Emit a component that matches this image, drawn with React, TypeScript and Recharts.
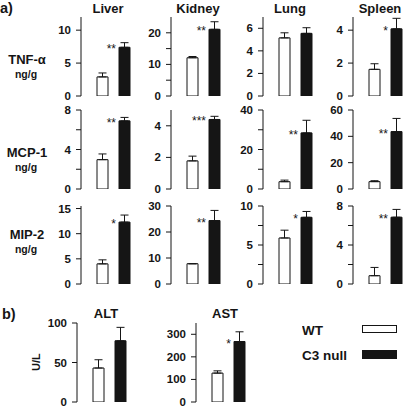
import { BarChart, Bar, XAxis, YAxis, ErrorBar, Cell, LabelList, Legend } from "recharts";

const FONT = "'Liberation Sans', Arial, Helvetica, sans-serif";
const INK = "#151515";

const groups = ["WT", "C3 null"];
const organs = ["Liver", "Kidney", "Lung", "Spleen"];

// TNF-alpha, ng/g
const tnfWT = [2.9, 12.1, 5.15, 1.62];
const tnfWTErr = [0.6, 0.4, 0.45, 0.34];
const tnfC3 = [7.4, 21.1, 5.55, 4.08];
const tnfC3Err = [0.7, 2.4, 0.5, 0.64];
const tnfStars = ["**", "**", "", "*"];
const tnfMax = [12, 25, 7, 4.8];
const tnfTicks = [[0, 5, 10], [0, 5, 10, 15, 20], [0, 2, 4, 6], [0, 2, 4]];
const tnfMinor = [[], [5, 15], [], []];

// MCP-1, ng/g
const mcpWT = [2.97, 1.78, 3.7, 5.6];
const mcpWTErr = [0.58, 0.3, 0.8, 0.7];
const mcpC3 = [6.9, 4.4, 28.4, 43.6];
const mcpC3Err = [0.35, 0.2, 6.4, 10];
const mcpStars = ["**", "***", "**", "**"];
const mcpMax = [8, 5, 40, 60];
const mcpTicks = [[0, 2, 4, 6, 8], [0, 2, 4], [0, 10, 20, 30, 40], [0, 20, 40, 60]];
const mcpMinor = [[2, 6], [], [10, 30], []];

// MIP-2, ng/g
const mipWT = [4.0, 7.8, 5.9, 0.85];
const mipWTErr = [0.8, 0, 1.0, 0.85];
const mipC3 = [12.3, 24.4, 8.55, 6.85];
const mipC3Err = [1.4, 3.9, 0.75, 0.8];
const mipStars = ["*", "**", "*", "**"];
const mipMax = [15.5, 30, 10, 8];
const mipTicks = [[0, 5, 10, 15], [0, 10, 20, 30], [0, 2.5, 5, 7.5, 10], [0, 2, 4, 6, 8]];
const mipMinor = [[], [], [2.5, 7.5], [2, 6]];

// b) serum enzymes, U/L
const enzymes = ["ALT", "AST"];
const enzWT = [43, 128];
const enzWTErr = [10.5, 10];
const enzC3 = [77.5, 268];
const enzC3Err = [17, 43];
const enzStars = ["", "*"];
const enzMax = [100, 350];
const enzTicks = [[0, 50, 100], [0, 100, 200, 300]];

const rows = [
  { label: "TNF-α", wt: tnfWT, wtErr: tnfWTErr, c3: tnfC3, c3Err: tnfC3Err, stars: tnfStars, max: tnfMax, ticks: tnfTicks, minor: tnfMinor },
  { label: "MCP-1", wt: mcpWT, wtErr: mcpWTErr, c3: mcpC3, c3Err: mcpC3Err, stars: mcpStars, max: mcpMax, ticks: mcpTicks, minor: mcpMinor },
  { label: "MIP-2", wt: mipWT, wtErr: mipWTErr, c3: mipC3, c3Err: mipC3Err, stars: mipStars, max: mipMax, ticks: mipTicks, minor: mipMinor },
];

// layout
const AXIS_W = 30;
const FRAME_W = 60;
const PAD_V = 7;
const colX = [81, 171, 263, 353];
const rowY = [17, 110, 206];
const rowH = [79, 79, 78];
const enzX = [77, 196];
const enzY = 323;
const enzH = 79;

function tickRenderer(minor: number[]) {
  return (props: any) => {
    const { x, y, payload } = props;
    if (minor.includes(payload.value)) return <g />;
    return (
      <text x={x} y={y} dy={4} textAnchor="end" fontSize={11.5} fontWeight="bold" fontFamily={FONT} fill={INK}>
        {payload.value}
      </text>
    );
  };
}

const renderStar = (props: any) => {
  const x = props.x ?? props.viewBox?.x;
  const y = props.y ?? props.viewBox?.y;
  if (!props.value) return null;
  return (
    <text x={x - 3} y={y + 6} textAnchor="end" fontSize={12} fontFamily={FONT} fill={INK}>
      {props.value}
    </text>
  );
};

const renderLegend = () => (
  <svg width={110} height={44} style={{ display: "block" }}>
    {groups.map((g, i) => (
      <g key={g}>
        <text x={0} y={13 + i * 25} fontSize={13.5} fontWeight="bold" fontFamily={FONT} fill={INK}>
          {g}
        </text>
        <rect x={60.5} y={3.5 + i * 25} width={34} height={i ? 8 : 7} fill={i ? INK : "#fff"} stroke={INK} />
      </g>
    ))}
  </svg>
);

interface PanelProps {
  left: number;
  top: number;
  height: number;
  max: number;
  ticks: number[];
  minor: number[];
  wt: number;
  wtErr: number;
  c3: number;
  c3Err: number;
  star: string;
  legend?: boolean;
}

function Panel({ left, top, height, max, ticks, minor, wt, wtErr, c3, c3Err, star, legend }: PanelProps) {
  const data = [
    { group: groups[0], value: wt, err: [0, wtErr], star: "" },
    { group: groups[1], value: c3, err: [0, c3Err], star },
  ];
  const chartLeft = left - AXIS_W;
  const chartTop = top - PAD_V;
  return (
    <div style={{ position: "absolute", left: chartLeft, top: chartTop }}>
      <BarChart
        width={AXIS_W + FRAME_W + 1}
        height={height + PAD_V * 2}
        data={data}
        margin={{ top: PAD_V, right: 1, bottom: PAD_V, left: 0 }}
        barCategoryGap={0}
      >
        <XAxis dataKey="group" tick={false} tickLine={false} height={0} padding={{ left: 10, right: 6 }} stroke={INK} />
        <XAxis xAxisId="top" orientation="top" dataKey="group" tick={false} tickLine={false} height={0} stroke={INK} />
        <YAxis
          type="number"
          domain={[0, max]}
          ticks={ticks}
          interval={0}
          width={AXIS_W}
          tickSize={5}
          tickMargin={5}
          tick={tickRenderer(minor)}
          stroke={INK}
          allowDataOverflow
        />
        <YAxis yAxisId="r" orientation="right" type="number" domain={[0, max]} width={0} tick={false} tickLine={false} stroke={INK} />
        <Bar dataKey="value" barSize={11} stroke={INK} strokeWidth={1} isAnimationActive={false}>
          {data.map((d, i) => (
            <Cell key={d.group} fill={i ? INK : "#fff"} />
          ))}
          <ErrorBar dataKey="err" direction="y" width={4} stroke={INK} strokeWidth={1} isAnimationActive={false} />
          <LabelList dataKey="star" content={renderStar} />
        </Bar>
        {legend && (
          <Legend
            layout="horizontal"
            verticalAlign="middle"
            align="center"
            content={renderLegend}
            wrapperStyle={{ left: 302 - chartLeft, top: 322 - chartTop, width: 110 }}
          />
        )}
      </BarChart>
    </div>
  );
}

const txt = { fontFamily: FONT, fontWeight: "bold" as const, fill: INK };

export default function App() {
  return (
    <div style={{ position: "absolute", left: 0, top: 0, width: 417, height: 409, background: "#fff" }}>
      {rows.map((r, ri) =>
        organs.map((o, ci) => (
          <Panel
            key={r.label + o}
            left={colX[ci]}
            top={rowY[ri]}
            height={rowH[ri]}
            max={r.max[ci]}
            ticks={r.ticks[ci]}
            minor={r.minor[ci]}
            wt={r.wt[ci]}
            wtErr={r.wtErr[ci]}
            c3={r.c3[ci]}
            c3Err={r.c3Err[ci]}
            star={r.stars[ci]}
          />
        ))
      )}
      {enzymes.map((e, i) => (
        <Panel
          key={e}
          left={enzX[i]}
          top={enzY}
          height={enzH}
          max={enzMax[i]}
          ticks={enzTicks[i]}
          minor={[]}
          wt={enzWT[i]}
          wtErr={enzWTErr[i]}
          c3={enzC3[i]}
          c3Err={enzC3Err[i]}
          star={enzStars[i]}
          legend={i === 1}
        />
      ))}
      <svg width={417} height={409} style={{ position: "absolute", left: 0, top: 0, pointerEvents: "none" }}>
        <text x={0} y={13} fontSize={14.5} {...txt}>a)</text>
        <text x={2} y={319} fontSize={14.5} {...txt}>b)</text>
        {organs.map((o, i) => (
          <text key={o} x={colX[i] + FRAME_W / 2 - 3} y={13} fontSize={13} textAnchor="middle" {...txt}>
            {o}
          </text>
        ))}
        {enzymes.map((e, i) => (
          <text key={e} x={enzX[i] + FRAME_W / 2 - 1} y={318} fontSize={13} textAnchor="middle" {...txt}>
            {e}
          </text>
        ))}
        {rows.map((r, i) => (
          <g key={r.label}>
            <text x={27} y={[64, 157, 239][i]} fontSize={13} textAnchor="middle" {...txt}>
              {r.label}
            </text>
            <text x={26} y={[77.5, 170.5, 252.5][i]} fontSize={10.5} textAnchor="middle" {...txt}>
              ng/g
            </text>
          </g>
        ))}
        <text x={40} y={362} fontSize={11} textAnchor="middle" transform="rotate(-90 40 362)" {...txt}>
          U/L
        </text>
      </svg>
    </div>
  );
}
